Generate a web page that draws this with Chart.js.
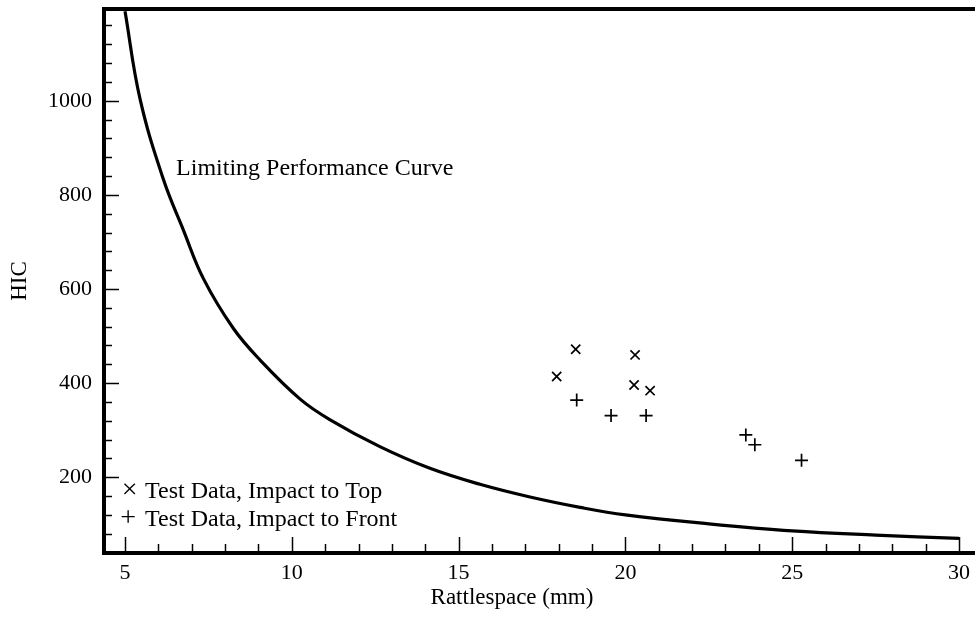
<!DOCTYPE html>
<html>
<head>
<meta charset="utf-8">
<script src="https://cdn.jsdelivr.net/npm/chart.js@4.4.1/dist/chart.umd.min.js"></script>
<style>
  html, body { margin: 0; padding: 0; background: #fff; }
</style>
</head>
<body>
<canvas id="hicChart" width="975" height="643"></canvas>
<script>
// Limiting performance curve
const curveX = [5, 5.45, 6.15, 6.75, 7.35, 8.25, 9.05, 10.25, 11.15, 12.64, 14.14, 15.64, 17.14, 18.64, 20, 22.5, 25, 27.5, 30];
const curveY = [1190, 1004, 833, 725, 622, 516, 449, 366, 322, 265, 219, 185, 158, 136, 120, 101, 86, 77, 70];

// Test data, impact to top (x marks)
const topX = [17.94, 18.51, 20.26, 20.29, 20.74];
const topY = [414, 472, 396, 460, 384];

// Test data, impact to front (+ marks)
const frontX = [18.54, 19.57, 20.62, 23.61, 23.88, 25.28];
const frontY = [364, 331, 331, 290, 269, 236];

// labelled ticks
const xTickLabels = [5, 10, 15, 20, 25, 30];
const yTickLabels = [200, 400, 600, 800, 1000];

const FONT = '"Liberation Serif", "Times New Roman", serif';

function toPoints(xs, ys) {
  return xs.map((x, i) => ({ x: x, y: ys[i] }));
}

// inward tick marks, frame lines and the texts inside the plot
const framePlugin = {
  id: 'frame',
  afterDraw(chart) {
    const ctx = chart.ctx;
    const area = chart.chartArea;
    const xs = chart.scales.x;
    const ys = chart.scales.y;
    ctx.save();
    ctx.strokeStyle = '#000';
    ctx.lineWidth = 1.5;
    xs.ticks.forEach(t => {
      const px = Math.round(xs.getPixelForValue(t.value)) + 0.5;
      const len = xTickLabels.includes(t.value) ? 16 : 9;
      ctx.beginPath();
      ctx.moveTo(px, area.bottom);
      ctx.lineTo(px, area.bottom - len);
      ctx.stroke();
    });
    ys.ticks.forEach(t => {
      const py = Math.round(ys.getPixelForValue(t.value)) + 0.5;
      const len = yTickLabels.includes(t.value) ? 15 : 8;
      ctx.beginPath();
      ctx.moveTo(area.left, py);
      ctx.lineTo(area.left + len, py);
      ctx.stroke();
    });

    // frame: left, bottom and top
    ctx.lineWidth = 4;
    ctx.lineCap = 'square';
    ctx.beginPath();
    ctx.moveTo(area.right, area.top);
    ctx.lineTo(area.left, area.top);
    ctx.lineTo(area.left, area.bottom);
    ctx.lineTo(area.right, area.bottom);
    ctx.stroke();

    // texts
    ctx.fillStyle = '#000';
    ctx.font = '24px ' + FONT;
    ctx.textBaseline = 'alphabetic';
    ctx.textAlign = 'left';
    ctx.fillText('Limiting Performance Curve', xs.getPixelForValue(6.53), ys.getPixelForValue(842));

    ctx.fillText('Test Data, Impact to Top', xs.getPixelForValue(5.6), ys.getPixelForValue(156));
    ctx.fillText('Test Data, Impact to Front', xs.getPixelForValue(5.6), ys.getPixelForValue(96));
    ctx.font = '28px ' + FONT;
    ctx.fillText('\u00d7', xs.getPixelForValue(4.9), ys.getPixelForValue(156));
    ctx.fillText('+', xs.getPixelForValue(4.86), ys.getPixelForValue(96));

    // x axis title
    ctx.font = '23px ' + FONT;
    ctx.textAlign = 'center';
    ctx.textBaseline = 'middle';
    ctx.fillText('Rattlespace (mm)', xs.getPixelForValue(16.6), chart.height - 45);
    ctx.restore();
  }
};

const ctx = document.getElementById('hicChart').getContext('2d');
new Chart(ctx, {
  type: 'scatter',
  data: {
    datasets: [
      {
        label: 'Limiting Performance Curve',
        type: 'line',
        data: toPoints(curveX, curveY),
        borderColor: '#000',
        borderWidth: 3.2,
        pointRadius: 0,
        tension: 0.4,
        fill: false
      },
      {
        label: 'Test Data, Impact to Top',
        data: toPoints(topX, topY),
        pointStyle: 'crossRot',
        pointRadius: 6.5,
        borderColor: '#000',
        pointBorderWidth: 1.7
      },
      {
        label: 'Test Data, Impact to Front',
        data: toPoints(frontX, frontY),
        pointStyle: 'cross',
        pointRadius: 6.5,
        borderColor: '#000',
        pointBorderWidth: 1.7
      }
    ]
  },
  options: {
    responsive: false,
    animation: false,
    layout: { autoPadding: false, padding: { top: 9, left: 0, right: 0, bottom: 0 } },
    plugins: {
      legend: { display: false },
      tooltip: { enabled: false }
    },
    scales: {
      x: {
        type: 'linear',
        min: 4.37,
        max: 30.48,
        grid: { display: false, drawTicks: false },
        border: { display: false },
        ticks: {
          stepSize: 1,
          includeBounds: false,
          autoSkip: false,
          maxRotation: 0,
          padding: 7,
          color: '#000',
          font: { family: FONT, size: 22 },
          callback: value => xTickLabels.includes(value) ? String(value) : ''
        },
        afterFit: scale => {
          scale.height = 90;
          scale.paddingLeft = 0;
          scale.paddingRight = 0;
        }
      },
      y: {
        type: 'linear',
        min: 39,
        max: 1195,
        grid: { display: false, drawTicks: false },
        border: { display: false },
        title: {
          display: true,
          text: 'HIC',
          color: '#000',
          font: { family: FONT, size: 23 },
          padding: { top: 6, bottom: 0 }
        },
        ticks: {
          stepSize: 40,
          includeBounds: false,
          autoSkip: false,
          padding: 12,
          color: '#000',
          font: { family: FONT, size: 22 },
          callback: value => yTickLabels.includes(value) ? String(value) : ''
        },
        afterFit: scale => {
          scale.width = 104;
          scale.paddingTop = 0;
          scale.paddingBottom = 0;
        }
      }
    }
  },
  plugins: [framePlugin]
});
</script>
</body>
</html>
